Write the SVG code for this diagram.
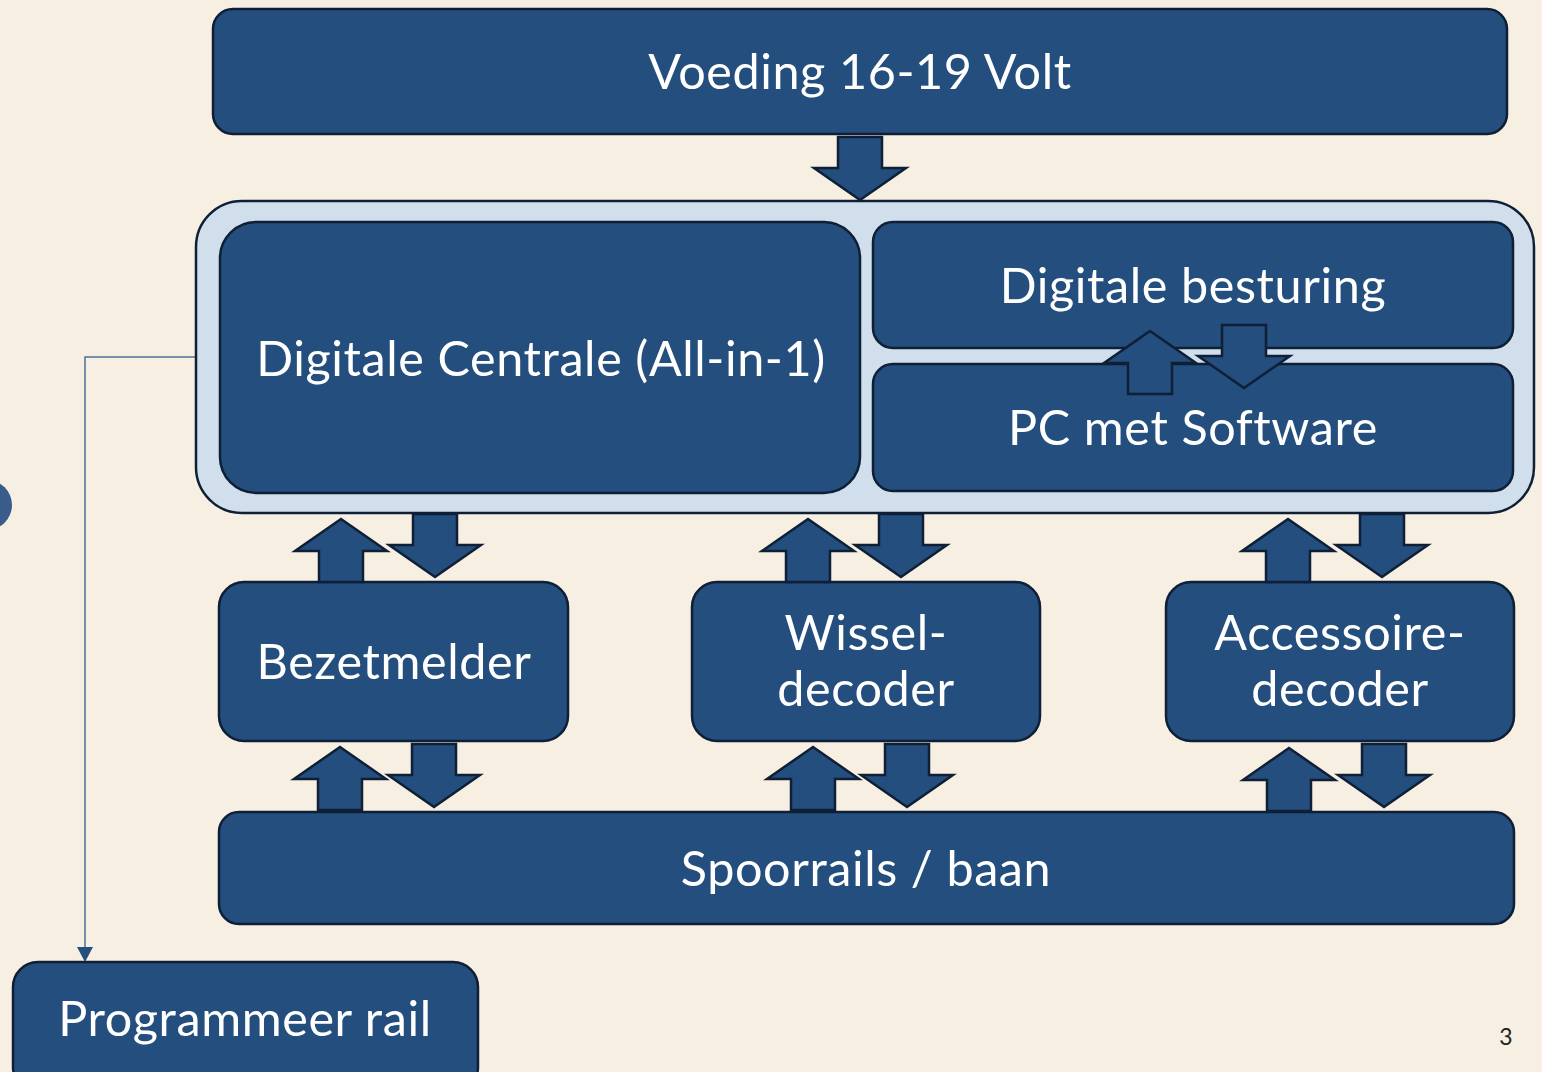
<svg xmlns="http://www.w3.org/2000/svg" xmlns:xlink="http://www.w3.org/1999/xlink" width="1542" height="1072" viewBox="0 0 1542 1072">
  <style>
    .node { fill: #234E7D; stroke: #0E1F36; stroke-width: 2.5; }
    .frame { fill: #D1DFEC; stroke: #0E1F36; stroke-width: 2.5; }
    .label { fill: #FFFFFF; font-family: Lato, "Open Sans", "Liberation Sans", sans-serif; font-size: 48.5px; letter-spacing: 0.6px; text-anchor: middle; }
    .arrow { fill: #234E7D; stroke: #0E1F36; stroke-width: 2.5; stroke-linejoin: miter; }
    .link { fill: none; stroke: #4A70A0; stroke-width: 1.5; }
    .page { fill: #222222; font-family: Lato, "Liberation Sans", sans-serif; font-size: 23px; text-anchor: middle; }
  </style>
  <defs>
    <!-- block arrows, tip at the origin -->
    <path id="up" d="M0,0 L46,32 L22,32 L22,63 L-22,63 L-22,32 L-46,32 Z"/>
    <path id="down" d="M0,0 L46,-32 L22,-32 L22,-63 L-22,-63 L-22,-32 L-46,-32 Z"/>
  </defs>

  <rect width="1542" height="1072" fill="#F8EFE3"/>

  <!-- slide decoration at the left edge -->
  <circle cx="-13" cy="505" r="25" fill="#385D8A"/>

  <g id="connectors">
    <path class="link" d="M196,357 L85,357 L85,947"/>
    <path d="M77,947 L93,947 L85,962 Z" fill="#234E7D"/>
  </g>

  <g id="voeding">
    <rect class="node" x="213" y="9" width="1294" height="125" rx="20"/>
    <text class="label" x="860" y="89">Voeding 16-19 Volt</text>
  </g>

  <g id="centrale-groep">
    <rect class="frame" x="196" y="201" width="1338" height="312" rx="46"/>
  </g>

  <g id="digitale-centrale">
    <rect class="node" x="220" y="222" width="640" height="271" rx="36"/>
    <text class="label" x="541" y="376">Digitale Centrale (All-in-1)</text>
  </g>

  <g id="digitale-besturing">
    <rect class="node" x="873" y="222" width="640" height="126" rx="20"/>
    <text class="label" x="1193" y="303">Digitale besturing</text>
  </g>

  <g id="pc-software">
    <rect class="node" x="873" y="364" width="640" height="127" rx="20"/>
    <text class="label" x="1193" y="445">PC met Software</text>
  </g>

  <g id="bezetmelder">
    <rect class="node" x="219" y="582" width="349" height="159" rx="25"/>
    <text class="label" x="394" y="679">Bezetmelder</text>
  </g>

  <g id="wisseldecoder">
    <rect class="node" x="692" y="582" width="348" height="159" rx="25"/>
    <text class="label" x="866" y="650">Wissel-</text>
    <text class="label" x="866" y="706">decoder</text>
  </g>

  <g id="accessoiredecoder">
    <rect class="node" x="1166" y="582" width="348" height="159" rx="25"/>
    <text class="label" x="1340" y="650">Accessoire-</text>
    <text class="label" x="1340" y="706">decoder</text>
  </g>

  <g id="spoorrails">
    <rect class="node" x="219" y="812" width="1295" height="112" rx="20"/>
    <text class="label" x="866" y="886">Spoorrails / baan</text>
  </g>

  <g id="programmeerrail">
    <rect class="node" x="13" y="962" width="465" height="130" rx="25"/>
    <text class="label" x="245" y="1036">Programmeer rail</text>
  </g>

  <g id="block-arrows">
    <use href="#down" class="arrow" x="860" y="200"/>
    <use href="#up" class="arrow" x="1150" y="331"/>
    <use href="#down" class="arrow" x="1244" y="388"/>

    <use href="#up" class="arrow" x="341" y="519"/>
    <use href="#down" class="arrow" x="435" y="577"/>
    <use href="#up" class="arrow" x="808" y="519"/>
    <use href="#down" class="arrow" x="901" y="577"/>
    <use href="#up" class="arrow" x="1288" y="519"/>
    <use href="#down" class="arrow" x="1382" y="577"/>

    <use href="#up" class="arrow" x="340" y="747"/>
    <use href="#down" class="arrow" x="434" y="807"/>
    <use href="#up" class="arrow" x="813" y="747"/>
    <use href="#down" class="arrow" x="907" y="807"/>
    <use href="#up" class="arrow" x="1289" y="748"/>
    <use href="#down" class="arrow" x="1384" y="807"/>
  </g>

  <text class="page" x="1506" y="1045">3</text>
</svg>
